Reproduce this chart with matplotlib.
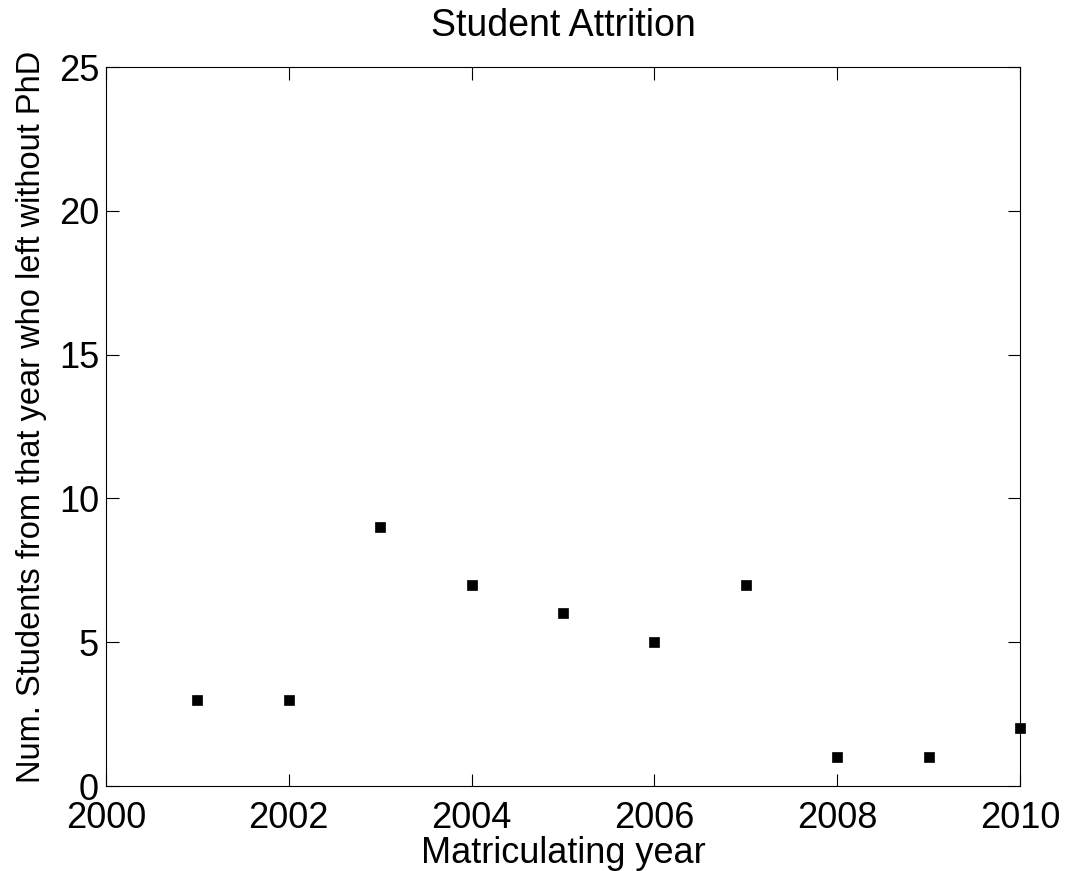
import matplotlib
matplotlib.use("Agg")
import matplotlib.pyplot as plt

years = [2001, 2002, 2003, 2004, 2005, 2006, 2007, 2008, 2009, 2010]
left_without_phd = [3, 3, 9, 7, 6, 5, 7, 1, 1, 2]
x_ticks = [2000, 2002, 2004, 2006, 2008, 2010]
y_ticks = [0, 5, 10, 15, 20, 25]

plt.rcParams['font.family'] = ['Liberation Sans', 'DejaVu Sans']

fig = plt.figure(figsize=(10.65, 8.71), dpi=100)
ax = fig.add_axes([106 / 1065, 1 - 786 / 871, (1020 - 106) / 1065, (786 - 67) / 871])

ax.plot(years, left_without_phd, 's', color='black', markersize=7.5,
        markeredgewidth=0.5, clip_on=False)

ax.set_xlim(2000, 2010)
ax.set_ylim(0, 25)
ax.set_xticks(x_ticks)
ax.set_yticks(y_ticks)
ax.tick_params(direction='in', top=True, right=True, length=9, width=0.8,
               labelsize=26)
ax.tick_params(axis='x', pad=10.5)
ax.tick_params(axis='y', pad=5)
for s in ax.spines.values():
    s.set_linewidth(0.8)

ax.set_xlabel('Matriculating year', fontsize=26, labelpad=0.5)
ax.set_ylabel('Num. Students from that year who left without PhD', fontsize=23.5, labelpad=8.5)
ax.yaxis.label.set_y(0.514)
ax.set_title('Student Attrition', fontsize=27, pad=22)

fig.savefig('out.png', dpi=100)
